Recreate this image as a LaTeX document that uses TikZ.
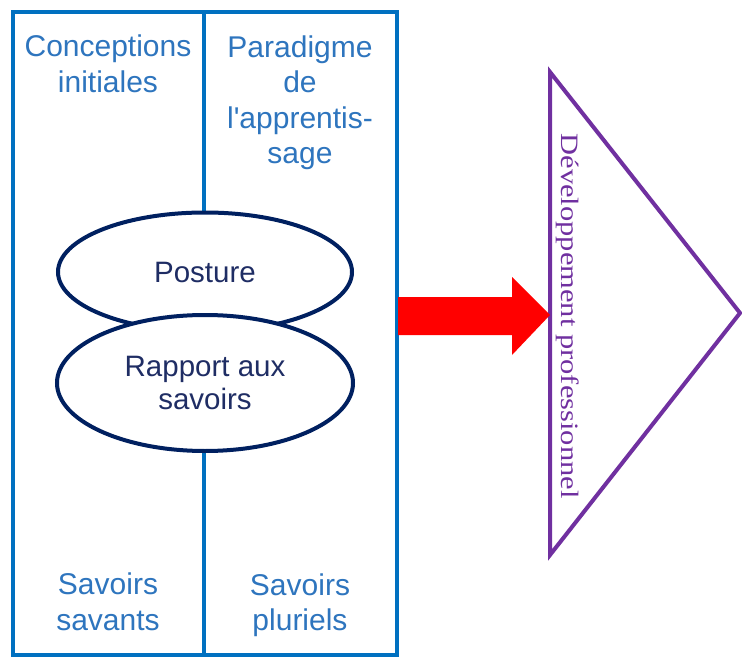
\documentclass[tikz,border=0pt]{standalone}
\usepackage{fontspec}
\setmainfont{Liberation Sans}
\newfontfamily\devfont[FakeStretch=1.22]{Liberation Serif}
\usetikzlibrary{shapes.geometric}
\definecolor{boxblue}{RGB}{0,112,192}
\definecolor{txtblue}{RGB}{46,117,190}
\definecolor{navy}{RGB}{0,32,96}
\definecolor{navytxt}{RGB}{31,45,100}
\definecolor{purp}{RGB}{112,48,160}
\tikzset{
  frame/.style={draw=boxblue, line width=4.5pt},
  lbl/.style={text=txtblue, align=center, inner sep=0pt, font=\fontsize{30}{35.5}\selectfont},
  oval/.style={ellipse, draw=navy, line width=4pt, fill=white, inner sep=0pt, text=navytxt, align=center, font=\fontsize{29.5}{33}\selectfont},
  tri/.style={draw=purp, line width=4pt, line join=miter},
  bigarrow/.style={fill=red, draw=none}
}
\begin{document}
\begin{tikzpicture}[x=1pt,y=-1pt]
\useasboundingbox (0,0) rectangle (742,658);
\fill[white] (0,0) rectangle (742,658);
% frame
\draw[frame] (13,12) rectangle (397,655);
\coordinate (divtop) at (204,12);
\coordinate (divbot) at (204,655);
\draw[frame] (divtop) -- (divbot);
% labels
\node[lbl] (ci) at (108,64) {Conceptions\\initiales};
\node[lbl] (pa) at (300,102.5) {Paradigme\\de\\l\textquotesingle apprentis-\\sage};
\node[lbl] (ss) at (108,602) {Savoirs\\savants};
\node[lbl] (sp) at (300,605) {Savoirs\\pluriels};
% ovals
\node[oval, minimum width=294pt, minimum height=119pt] (posture) at (205,272) {Posture};
\node[oval, minimum width=296pt, minimum height=136pt] (rapport) at (205,383) {Rapport aux\\savoirs};
% triangle
\coordinate (t1) at (550,72);
\coordinate (t2) at (740,313);
\coordinate (t3) at (550,555);
\draw[tri] (t1) -- (t2) -- (t3) -- cycle;
\node[text=purp, rotate=-90, inner sep=0pt, font=\devfont\fontsize{25}{30}\selectfont] (dev) at (568,316) {Développement professionnel};
% arrow
\coordinate (as) at (398,316);
\coordinate (at) at (550,315);
\fill[bigarrow] (398,297) -- (512,297) -- (512,277) -- (at) -- (512,355) -- (512,335) -- (398,335) -- cycle;
\end{tikzpicture}
\end{document}
